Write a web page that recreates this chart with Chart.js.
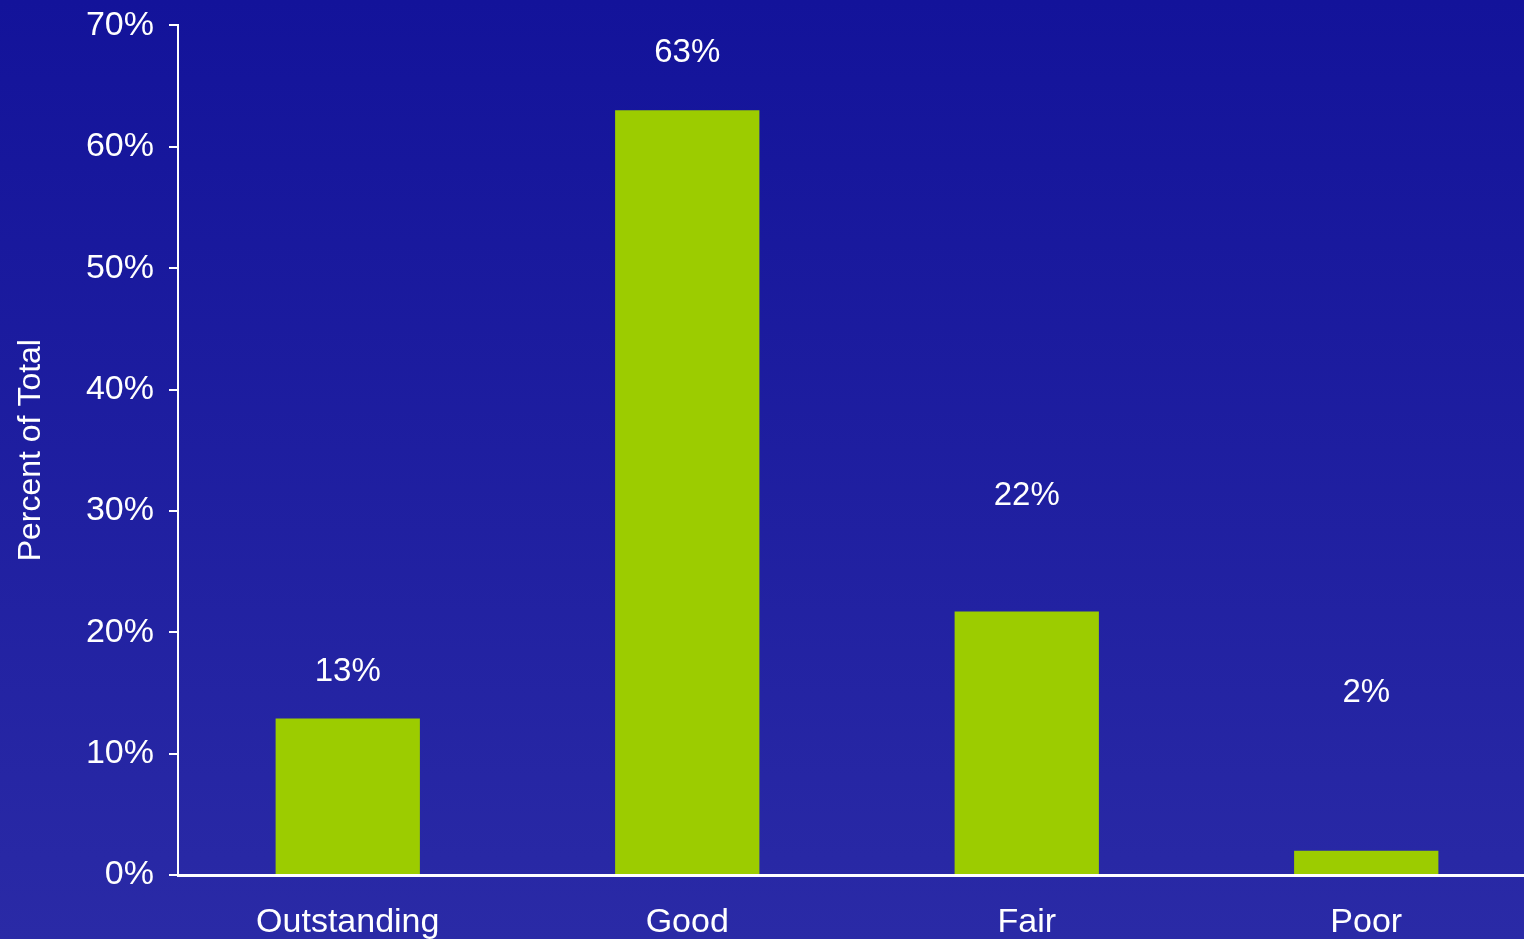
<!DOCTYPE html>
<html>
<head>
<meta charset="utf-8">
<script src="https://cdn.jsdelivr.net/npm/chart.js@4"></script>
<style>
  html, body { margin: 0; padding: 0; overflow: hidden; width: 1524px; height: 939px; }
  body { background: linear-gradient(to bottom, #13139a 0%, #2a2aa6 100%); }
  #wrap { position: absolute; left: 0; top: -10px; width: 1538px; height: 975px; }
</style>
</head>
<body>
<div id="wrap"><canvas id="chart"></canvas></div>
<script>
// data
const categories = ['Outstanding', 'Good', 'Fair', 'Poor'];
const percentValues = [12.9, 63.0, 21.7, 2.0];
const valueLabels = ['13%', '63%', '22%', '2%'];
// where each value label sits, in axis units (%)
const labelAnchors = [16.7, 67.7, 31.2, 15.0];
const yTicks = [0, 10, 20, 30, 40, 50, 60, 70];

const FONT = '"Liberation Sans", Arial, sans-serif';

// draws the % labels above the bars
const valueLabelPlugin = {
  id: 'valueLabels',
  afterDatasetsDraw(chart) {
    const { ctx, scales } = chart;
    const meta = chart.getDatasetMeta(0);
    ctx.save();
    ctx.fillStyle = '#ffffff';
    ctx.font = '33px ' + FONT;
    ctx.textAlign = 'center';
    ctx.textBaseline = 'middle';
    meta.data.forEach((bar, i) => {
      ctx.fillText(valueLabels[i], bar.x, scales.y.getPixelForValue(labelAnchors[i]));
    });
    ctx.restore();
  }
};

new Chart(document.getElementById('chart'), {
  type: 'bar',
  data: {
    labels: categories,
    datasets: [{
      data: percentValues,
      backgroundColor: '#9ccc00',
      borderWidth: 0,
      barPercentage: 0.425,
      categoryPercentage: 1.0
    }]
  },
  options: {
    responsive: true,
    maintainAspectRatio: false,
    animation: false,
    layout: { padding: { top: 14, right: 2, left: 0, bottom: 0 } },
    plugins: {
      legend: { display: false },
      tooltip: { enabled: false }
    },
    scales: {
      x: {
        grid: { display: true, drawOnChartArea: false, drawTicks: false },
        border: { color: '#ffffff', width: 3 },
        ticks: { color: '#ffffff', font: { family: FONT, size: 34 }, padding: 27, maxRotation: 0 },
        afterFit: s => { s.height = 90; }
      },
      y: {
        min: 0,
        max: 70,
        afterBuildTicks: s => { s.ticks = yTicks.map(v => ({ value: v })); },
        grid: { drawOnChartArea: false, drawTicks: true, tickLength: 9, color: '#ffffff', lineWidth: 2 },
        border: { color: '#ffffff', width: 2 },
        ticks: {
          color: '#ffffff',
          font: { family: FONT, size: 34 },
          padding: 15,
          callback: v => v + '%'
        },
        title: {
          display: true,
          text: 'Percent of Total',
          color: '#ffffff',
          font: { family: FONT, size: 32 },
          padding: { top: 12, bottom: 0 }
        },
        afterFit: s => { s.width = 178; }
      }
    }
  },
  plugins: [valueLabelPlugin]
});
</script>
</body>
</html>
